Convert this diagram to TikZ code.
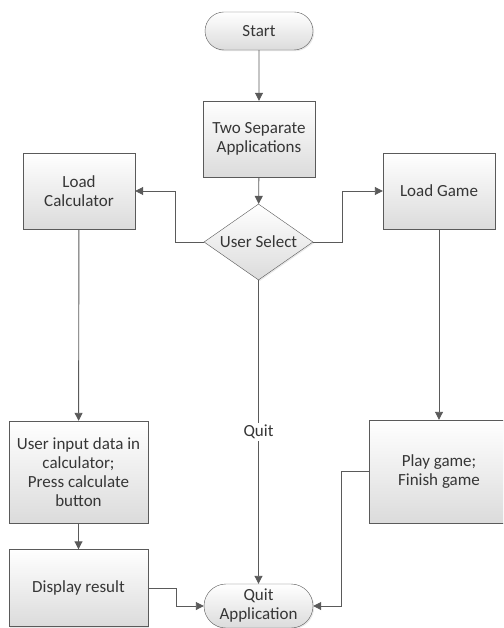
\documentclass[tikz,border=0pt]{standalone}
\usepackage{fontspec}
\setmainfont{Carlito}
\usepackage{tikz}
\usepackage{xcolor}
\usetikzlibrary{shapes.geometric,shapes.misc,arrows.meta,shadows}
\definecolor{edge}{HTML}{5A5A5A}
\definecolor{ink}{HTML}{363636}
\tikzset{
    flow-box/.style = {draw=edge, thin, top color=white, bottom color=black!14, text=ink, align=center,
        font=\fontsize{17}{19}\selectfont, inner sep=2pt,
        drop shadow={opacity=0.18, shadow xshift=1.2pt, shadow yshift=-1.2pt}},
    process-box/.style = {flow-box, rectangle, minimum width=112pt, minimum height=76pt},
    terminal-box/.style = {flow-box, rounded rectangle, minimum width=112pt, minimum height=38pt},
    decision-box/.style = {flow-box, diamond, aspect=1.43, inner sep=0pt, minimum width=109pt, minimum height=76pt},
    flow-line/.style = {draw=edge, line width=0.9pt, -{Triangle[width=8pt,length=8pt]}},
}

\begin{document}
\begin{tikzpicture}[x=1pt,y=-1pt]
\useasboundingbox (0,0) rectangle (503,628);
\begin{scope}
\clip (0,0) rectangle (503,628);
\node [terminal-box] (start) at (259,31) {Start};
\node [process-box] (apps) at (259,139) {Two Separate\\Applications};
\node [decision-box] (select) at (258.5,242) {User Select};
\node [process-box] (loadcalc) at (79,191) {Load\\Calculator};
\node [process-box] (loadgame) at (439,191) {Load Game};
\node [process-box, minimum width=139pt, minimum height=102pt] (input) at (78.5,472) {User input data in\\calculator;\\Press calculate\\button};
\node [process-box, minimum width=139pt, minimum height=77pt] (display) at (78.5,588) {Display result};
\node [process-box, minimum width=140pt, minimum height=103pt] (play) at (439,471.5) {Play game;\\Finish game};
\node [terminal-box, minimum width=109pt, minimum height=44pt, inner sep=0pt] (quit) at (258.5,606) {Quit\\Application};
\end{scope}

\draw [flow-line] (start) -- (apps);
\draw [flow-line] (apps) -- (select);
\draw [flow-line] (select.west) -- ++(-28,0) |- (loadcalc.east);
\draw [flow-line] (select.east) -- ++(29,0) |- (loadgame.west);
\draw [flow-line] (select.south) -- node [fill=white, text=ink, font=\fontsize{17}{19}\selectfont, inner sep=2pt] {Quit} (quit.north);
\draw [flow-line] (loadcalc) -- (input);
\draw [flow-line] (input) -- (display);
\draw [flow-line] (loadgame) -- (play);
\draw [flow-line] (display.east) -- ++(28,0) |- (quit.west);
\draw [flow-line] (play.west) -- ++(-27,0) |- (quit.east);
\end{tikzpicture}
\end{document}
